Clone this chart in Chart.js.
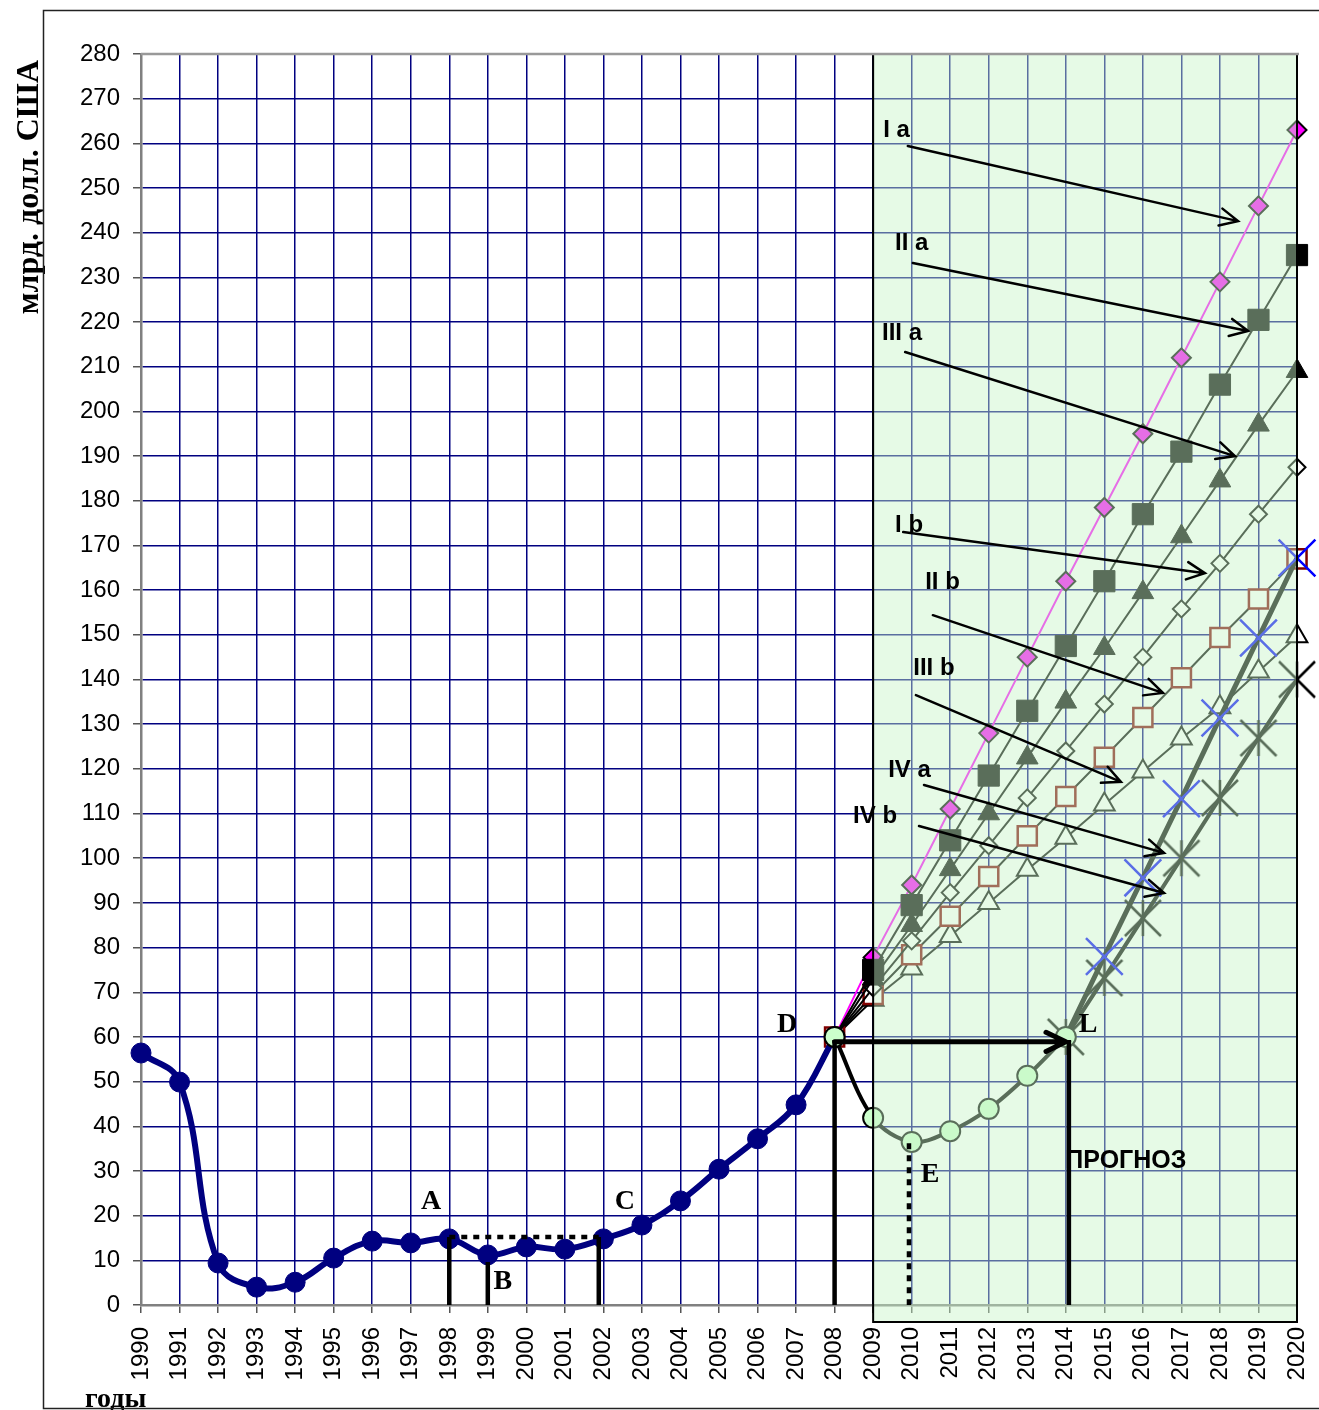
<!DOCTYPE html>
<html>
<head>
<meta charset="utf-8">
<script src="https://cdn.jsdelivr.net/npm/chart.js@4"></script>
<style>
  html, body { margin: 0; padding: 0; background: #fff; }
</style>
</head>
<body>
<canvas id="chart" width="1319" height="1410"></canvas>
<script>
// years on the x axis
const years = ['1990','1991','1992','1993','1994','1995','1996','1997','1998','1999',
  '2000','2001','2002','2003','2004','2005','2006','2007','2008','2009',
  '2010','2011','2012','2013','2014','2015','2016','2017','2018','2019','2020'];

const yTicks = [0, 280, 10]; // min, max, step

// actual values 1990-2008
const actual = [56.4, 49.9, 9.4, 4.0, 5.1, 10.5, 14.3, 13.9, 14.8, 11.2,
  13.0, 12.5, 14.8, 17.9, 23.3, 30.4, 37.2, 44.8, 60.0, null,
  null, null, null, null, null, null, null, null, null, null, null];

// crisis path D -> E -> L
const crisis = [null, null, null, null, null, null, null, null, null, null,
  null, null, null, null, null, null, null, null, 60, 41.9,
  36.5, 38.9, 43.9, 51.3, 60, null, null, null, null, null, null];

// forecast scenarios (2008-2020)
const Ia = [null, null, null, null, null, null, null, null, null, null,
  null, null, null, null, null, null, null, null, 60, 77.8,
  94, 111, 128, 145, 162, 178.5, 195, 212, 229, 246, 263];
const IIa = [null, null, null, null, null, null, null, null, null, null,
  null, null, null, null, null, null, null, null, 60, 75,
  89.5, 104, 118.5, 133, 147.5, 162, 177, 191, 206, 220.5, 235];
const IIIa = [null, null, null, null, null, null, null, null, null, null,
  null, null, null, null, null, null, null, null, 60, 73,
  85, 97.5, 110, 122.5, 135, 147, 159.5, 172, 184.5, 197, 209];
const Ib = [null, null, null, null, null, null, null, null, null, null,
  null, null, null, null, null, null, null, null, 60, 71,
  81.5, 92.3, 102.8, 113.5, 124, 134.5, 145, 155.8, 166, 177, 187.5];
const IIb = [null, null, null, null, null, null, null, null, null, null,
  null, null, null, null, null, null, null, null, 60, 69.5,
  78.4, 87, 95.9, 105, 113.8, 122.6, 131.5, 140.4, 149.4, 158, 167];
const IIIb = [null, null, null, null, null, null, null, null, null, null,
  null, null, null, null, null, null, null, null, 60, 68.3,
  75.3, 82.6, 90, 97.4, 104.6, 112, 119.4, 126.8, 133.8, 141.8, 149.7];
const IVa = [null, null, null, null, null, null, null, null, null, null,
  null, null, null, null, null, null, null, null, null, null,
  null, null, null, null, 60, 78, 95.6, 113.3, 131.4, 149.3, 167.2];
const IVb = [null, null, null, null, null, null, null, null, null, null,
  null, null, null, null, null, null, null, null, null, null,
  null, null, null, null, 60, 73.2, 86.6, 100, 113.5, 126.9, 140];

// annotations, in (year, value)
const arrows = [
  [2009.9, 259.4, 2018.47, 242.6],
  [2010.03, 233.2, 2018.73, 218.0],
  [2009.83, 213.3, 2018.39, 190.0],
  [2009.78, 173.0, 2017.61, 163.8],
  [2010.55, 154.4, 2016.52, 137.0],
  [2010.11, 136.5, 2015.43, 117.1],
  [2010.32, 116.4, 2016.55, 101.2],
  [2010.19, 107.2, 2016.55, 92.2]
];
const arrowLabels = [
  ['I a', 2009.26, 263], ['II a', 2009.57, 237.7], ['III a', 2009.23, 217.5],
  ['I b', 2009.57, 174.6], ['II b', 2010.35, 161.8], ['III b', 2010.04, 142.6],
  ['IV a', 2009.39, 119.7], ['IV b', 2008.48, 109.4]
];
const pointLetters = [
  ['A', 1997.53, 23.1], ['B', 1999.39, 5.1], ['C', 2002.56, 23.1],
  ['D', 2006.77, 62.7], ['E', 2010.48, 29.1], ['L', 2014.58, 62.7]
];

const serif = '"Liberation Serif", "Times New Roman", serif';
const sans = '"Liberation Sans", Arial, sans-serif';

// X with a vertical bar (star marker)
function starMarker(color) {
  const c = document.createElement('canvas');
  c.width = 40; c.height = 40;
  const g = c.getContext('2d');
  g.strokeStyle = color;
  g.lineWidth = 2.5;
  g.beginPath();
  g.moveTo(2, 2); g.lineTo(38, 38);
  g.moveTo(38, 2); g.lineTo(2, 38);
  g.moveTo(20, 2); g.lineTo(20, 38);
  g.stroke();
  return c;
}

const hideAt = (idx, r) => ctx => ctx.dataIndex === idx ? 0 : r;

const decor = {
  id: 'decor',
  beforeDraw(chart) {
    const c = chart.ctx;
    c.save();
    c.fillStyle = '#fff';
    c.fillRect(0, 0, chart.width, chart.height);
    c.restore();
  },
  afterDatasetsDraw(chart) {
    const c = chart.ctx;
    const xs = chart.scales.x, ys = chart.scales.y;
    const X = v => xs.getPixelForValue(v - 1990);
    const Y = v => ys.getPixelForValue(v);
    const area = chart.chartArea;

    // forecast zone
    const zx0 = X(2009), zx1 = X(2020), zy0 = area.top, zy1 = area.bottom + 17;
    c.save();
    c.fillStyle = 'rgba(200,244,200,0.45)';
    c.fillRect(zx0, zy0, zx1 - zx0, zy1 - zy0);
    c.strokeStyle = '#000';
    c.lineWidth = 2;
    c.beginPath();
    c.moveTo(zx0, zy0); c.lineTo(zx0, zy1); c.lineTo(zx1, zy1); c.lineTo(zx1, zy0);
    c.stroke();
    c.strokeStyle = '#999';
    c.lineWidth = 2.5;
    c.beginPath();
    c.moveTo(area.left, zy0); c.lineTo(zx1 + 2, zy0);
    c.stroke();

    // vertical drop lines
    c.strokeStyle = '#000';
    c.lineCap = 'butt';
    c.lineWidth = 4.5;
    const drops = [[1998, 15.2], [1999, 9.6], [2001.88, 15.2], [2008, 59.3], [2014.08, 59.3]];
    c.beginPath();
    drops.forEach(d => { c.moveTo(X(d[0]), Y(d[1])); c.lineTo(X(d[0]), Y(0)); });
    c.stroke();

    // dotted guides
    c.setLineDash([6, 6]);
    c.beginPath();
    c.moveTo(X(1998), Y(15.2)); c.lineTo(X(2001.88), Y(15.2));
    c.moveTo(X(2009.93), Y(36.2)); c.lineTo(X(2009.93), Y(0));
    c.stroke();
    c.setLineDash([]);

    // horizontal arrow D -> L
    drawArrow(c, X(2008), Y(58.9), X(2014.0), Y(58.9), 5, 22);

    // scenario arrows
    arrows.forEach(a => drawArrow(c, X(a[0]), Y(a[1]), X(a[2]), Y(a[3]), 2.5, 20));

    // labels
    c.fillStyle = '#000';
    c.textBaseline = 'middle';
    c.textAlign = 'left';
    c.font = 'bold 24px ' + sans;
    arrowLabels.forEach(l => c.fillText(l[0], X(l[1]), Y(l[2])));
    c.textAlign = 'center';
    c.font = 'bold 28px ' + serif;
    pointLetters.forEach(l => c.fillText(l[0], X(l[1]), Y(l[2])));
    c.font = 'bold 25px ' + sans;
    c.fillText('ПРОГНОЗ', X(2015.56), Y(32.2));
    c.restore();
  },
  afterDraw(chart) {
    const c = chart.ctx;
    const area = chart.chartArea;
    c.save();
    // axis titles
    c.fillStyle = '#000';
    c.font = 'bold 32px ' + serif;
    c.translate(38, area.top + 6);
    c.rotate(-Math.PI / 2);
    c.textAlign = 'right';
    c.textBaseline = 'alphabetic';
    c.fillText('млрд. долл. США', 0, 0);
    c.restore();
    c.save();
    c.fillStyle = '#000';
    c.font = 'bold 28px ' + serif;
    c.textAlign = 'left';
    c.textBaseline = 'alphabetic';
    c.fillText('годы', 85, 1407);
    // outer frame
    c.strokeStyle = '#222';
    c.lineWidth = 1.5;
    c.strokeRect(43.5, 10.5, 1400, 1398);
    c.restore();
  }
};

function drawArrow(c, x1, y1, x2, y2, w, head) {
  const ang = Math.atan2(y2 - y1, x2 - x1);
  c.save();
  c.strokeStyle = '#000';
  c.lineWidth = w;
  c.lineCap = 'round';
  c.beginPath();
  c.moveTo(x1, y1); c.lineTo(x2, y2);
  const a = 0.45;
  c.moveTo(x2 - head * Math.cos(ang - a), y2 - head * Math.sin(ang - a));
  c.lineTo(x2, y2);
  c.lineTo(x2 - head * Math.cos(ang + a), y2 - head * Math.sin(ang + a));
  c.stroke();
  c.restore();
}

const tickFont = { family: sans, size: 24 };

const config = {
  type: 'line',
  data: {
    labels: years,
    datasets: [
      { label: 'crisis', data: crisis, borderColor: '#000', borderWidth: 4, tension: 0.35,
        pointRadius: 10, pointBackgroundColor: '#ccffcc', pointBorderColor: '#000', pointBorderWidth: 2 },
      { label: 'actual', data: actual, borderColor: '#000080', borderWidth: 6, tension: 0.4,
        pointRadius: 10, pointBackgroundColor: '#000080', pointBorderColor: '#000080', pointBorderWidth: 1 },
      { label: 'IV a', data: IVa, borderColor: '#000', borderWidth: 5, tension: 0,
        pointStyle: 'crossRot', pointRadius: hideAt(24, 26), pointBorderColor: '#0000ff', pointBorderWidth: 2.5 },
      { label: 'IV b', data: IVb, borderColor: '#000', borderWidth: 4, tension: 0,
        pointStyle: starMarker('#000'), pointRadius: 18 },
      { label: 'II a', data: IIa, borderColor: '#000', borderWidth: 2, tension: 0,
        pointStyle: 'rect', pointRadius: hideAt(18, 15), pointBackgroundColor: '#000', pointBorderColor: '#000', pointBorderWidth: 1 },
      { label: 'I a', data: Ia, borderColor: '#ff00ff', borderWidth: 2, tension: 0,
        pointStyle: 'rectRot', pointRadius: hideAt(18, 9.5), pointBackgroundColor: '#ff00ff', pointBorderColor: '#000', pointBorderWidth: 2 },
      { label: 'III a', data: IIIa, borderColor: '#000', borderWidth: 2, tension: 0,
        pointStyle: 'triangle', pointRadius: hideAt(18, 12.5), pointBackgroundColor: '#000', pointBorderColor: '#000', pointBorderWidth: 1 },
      { label: 'I b', data: Ib, borderColor: '#000', borderWidth: 2, tension: 0,
        pointStyle: 'rectRot', pointRadius: hideAt(18, 8.5), pointBackgroundColor: '#fff', pointBorderColor: '#000', pointBorderWidth: 2 },
      { label: 'II b', data: IIb, borderColor: '#000', borderWidth: 2, tension: 0,
        pointStyle: 'rect', pointRadius: 13.5, pointBackgroundColor: '#fff', pointBorderColor: '#800000', pointBorderWidth: 2.5 },
      { label: 'III b', data: IIIb, borderColor: '#000', borderWidth: 2, tension: 0,
        pointStyle: 'triangle', pointRadius: hideAt(18, 12), pointBackgroundColor: '#fff', pointBorderColor: '#000', pointBorderWidth: 2 }
    ].map((d, i) => Object.assign({ order: i, clip: false, fill: false, spanGaps: false }, d))
  },
  options: {
    responsive: false,
    animation: false,
    devicePixelRatio: 1,
    layout: { autoPadding: false, padding: { left: 0, top: 54, right: 22, bottom: 0 } },
    plugins: {
      legend: { display: false },
      tooltip: { enabled: false },
      title: { display: false }
    },
    scales: {
      x: {
        afterFit: s => { s.height = 105; s.paddingLeft = 0; s.paddingRight = 0; },
        ticks: { autoSkip: false, maxRotation: 90, minRotation: 90, color: '#000', font: tickFont, padding: 14 },
        grid: { color: '#000080', lineWidth: 1.5, tickLength: 8, tickColor: '#555' },
        border: { color: '#808080', width: 2.5 }
      },
      y: {
        min: yTicks[0],
        max: yTicks[1],
        afterFit: s => { s.width = 141; s.paddingTop = 0; s.paddingBottom = 0; },
        ticks: { stepSize: yTicks[2], color: '#000', font: tickFont, padding: 13 },
        grid: { color: '#000080', lineWidth: 1.5, tickLength: 8, tickColor: '#555' },
        border: { color: '#808080', width: 2.5 }
      }
    }
  },
  plugins: [decor]
};

const myChart = new Chart(document.getElementById('chart'), config);
</script>
</body>
</html>
